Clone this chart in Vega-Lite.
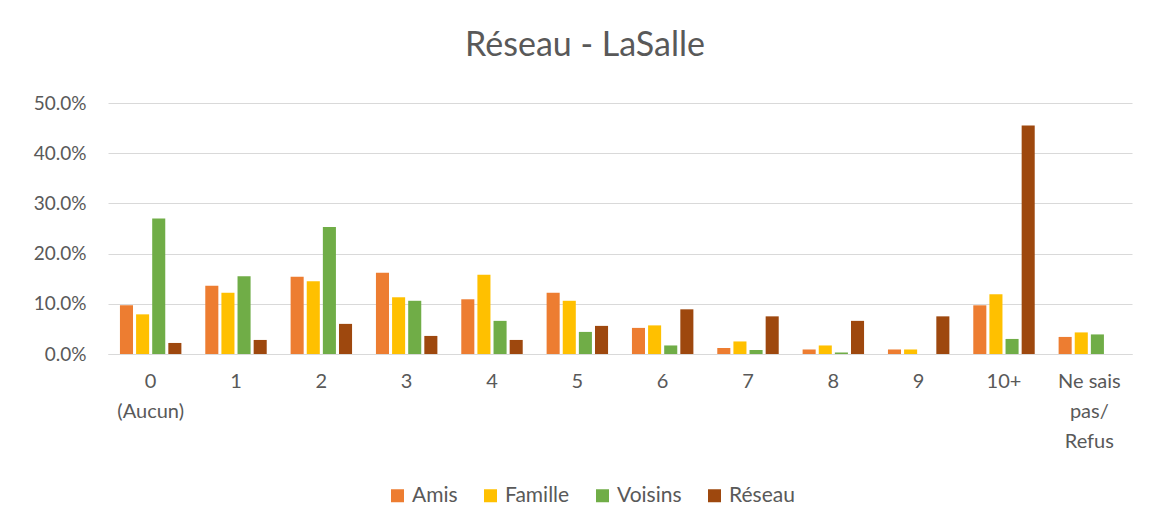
{
  "$schema": "https://vega.github.io/schema/vega-lite/v6.json",
  "width": 1024,
  "height": 251,
  "autosize": {"type": "none"},
  "padding": {"left": 108, "top": 103, "right": 21, "bottom": 174},
  "background": "white",
  "title": {"text": "Réseau - LaSalle", "fontSize": 34, "font": "Lato", "fontWeight": "normal", "color": "#595959", "anchor": "middle", "offset": 31, "dx": -35},
  "data": {"values": [
    {"cat": "0 (Aucun)", "serie": "Amis", "val": 0.097},
    {"cat": "0 (Aucun)", "serie": "Famille", "val": 0.079},
    {"cat": "0 (Aucun)", "serie": "Voisins", "val": 0.270},
    {"cat": "0 (Aucun)", "serie": "Réseau", "val": 0.022},
    {"cat": "1", "serie": "Amis", "val": 0.136},
    {"cat": "1", "serie": "Famille", "val": 0.122},
    {"cat": "1", "serie": "Voisins", "val": 0.155},
    {"cat": "1", "serie": "Réseau", "val": 0.028},
    {"cat": "2", "serie": "Amis", "val": 0.154},
    {"cat": "2", "serie": "Famille", "val": 0.145},
    {"cat": "2", "serie": "Voisins", "val": 0.253},
    {"cat": "2", "serie": "Réseau", "val": 0.060},
    {"cat": "3", "serie": "Amis", "val": 0.162},
    {"cat": "3", "serie": "Famille", "val": 0.113},
    {"cat": "3", "serie": "Voisins", "val": 0.106},
    {"cat": "3", "serie": "Réseau", "val": 0.036},
    {"cat": "4", "serie": "Amis", "val": 0.109},
    {"cat": "4", "serie": "Famille", "val": 0.158},
    {"cat": "4", "serie": "Voisins", "val": 0.066},
    {"cat": "4", "serie": "Réseau", "val": 0.028},
    {"cat": "5", "serie": "Amis", "val": 0.122},
    {"cat": "5", "serie": "Famille", "val": 0.106},
    {"cat": "5", "serie": "Voisins", "val": 0.044},
    {"cat": "5", "serie": "Réseau", "val": 0.056},
    {"cat": "6", "serie": "Amis", "val": 0.052},
    {"cat": "6", "serie": "Famille", "val": 0.057},
    {"cat": "6", "serie": "Voisins", "val": 0.017},
    {"cat": "6", "serie": "Réseau", "val": 0.089},
    {"cat": "7", "serie": "Amis", "val": 0.012},
    {"cat": "7", "serie": "Famille", "val": 0.025},
    {"cat": "7", "serie": "Voisins", "val": 0.008},
    {"cat": "7", "serie": "Réseau", "val": 0.075},
    {"cat": "8", "serie": "Amis", "val": 0.009},
    {"cat": "8", "serie": "Famille", "val": 0.017},
    {"cat": "8", "serie": "Voisins", "val": 0.003},
    {"cat": "8", "serie": "Réseau", "val": 0.066},
    {"cat": "9", "serie": "Amis", "val": 0.009},
    {"cat": "9", "serie": "Famille", "val": 0.009},
    {"cat": "9", "serie": "Voisins", "val": 0.0},
    {"cat": "9", "serie": "Réseau", "val": 0.075},
    {"cat": "10+", "serie": "Amis", "val": 0.097},
    {"cat": "10+", "serie": "Famille", "val": 0.119},
    {"cat": "10+", "serie": "Voisins", "val": 0.030},
    {"cat": "10+", "serie": "Réseau", "val": 0.455},
    {"cat": "Ne sais pas/ Refus", "serie": "Amis", "val": 0.034},
    {"cat": "Ne sais pas/ Refus", "serie": "Famille", "val": 0.043},
    {"cat": "Ne sais pas/ Refus", "serie": "Voisins", "val": 0.039},
    {"cat": "Ne sais pas/ Refus", "serie": "Réseau", "val": 0.0}
  ]},
  "mark": {"type": "bar"},
  "encoding": {
    "x": {
      "field": "cat", "type": "nominal", "sort": null,
      "scale": {"paddingInner": 0.28, "paddingOuter": 0.14},
      "axis": {
        "title": null, "labelAngle": 0, "ticks": false,
        "domainColor": "#D9D9D9", "domainWidth": 1,
        "labelFont": "Lato", "labelFontSize": 20, "labelColor": "#595959",
        "labelPadding": 17, "labelLineHeight": 30, "labelBaseline": "top",
        "labelExpr": "datum.value == '0 (Aucun)' ? ['0', '(Aucun)'] : datum.value == 'Ne sais pas/ Refus' ? ['Ne sais', 'pas/', 'Refus'] : datum.value"
      }
    },
    "xOffset": {"field": "serie", "type": "nominal", "sort": ["Amis", "Famille", "Voisins", "Réseau"], "scale": {"paddingInner": 0.19}},
    "y": {
      "field": "val", "type": "quantitative",
      "scale": {"domain": [0, 0.5], "nice": false},
      "axis": {
        "title": null, "format": ".1%", "values": [0, 0.1, 0.2, 0.3, 0.4, 0.5], "labelOverlap": false,
        "domain": false, "ticks": false, "gridColor": "#D9D9D9", "gridWidth": 1,
        "labelFont": "Lato", "labelFontSize": 19, "labelColor": "#595959", "labelPadding": 22
      }
    },
    "color": {
      "field": "serie", "type": "nominal",
      "sort": ["Amis", "Famille", "Voisins", "Réseau"],
      "scale": {"domain": ["Amis", "Famille", "Voisins", "Réseau"], "range": ["#ED7D31", "#FFC000", "#70AD47", "#9E480E"]},
      "legend": {
        "title": null, "orient": "none", "direction": "horizontal",
        "legendX": 279, "legendY": 382,
        "symbolType": "square", "symbolSize": 169, "symbolStrokeWidth": 0,
        "labelFont": "Lato", "labelFontSize": 21, "labelColor": "#595959",
        "labelOffset": 4, "columnPadding": 22
      }
    }
  },
  "config": {"view": {"stroke": null}}
}
